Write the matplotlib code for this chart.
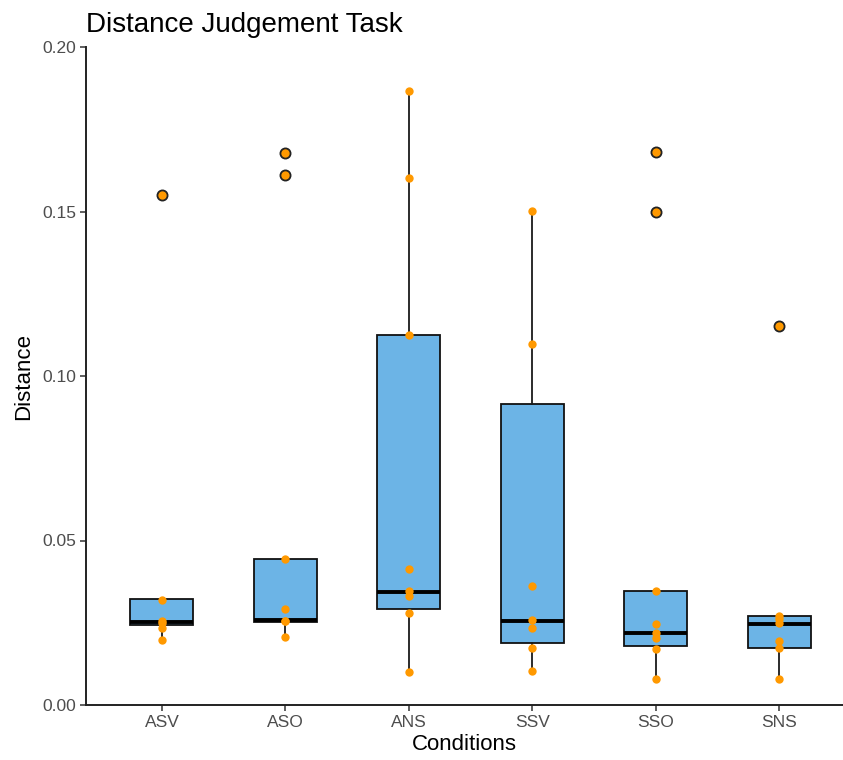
import matplotlib
matplotlib.use("Agg")
import matplotlib.pyplot as plt

conditions = ["ASV", "ASO", "ANS", "SSV", "SSO", "SNS"]

asv = [0.155, 0.0320, 0.0256, 0.0248, 0.0234, 0.0197]
aso = [0.1679, 0.1611, 0.0443, 0.0292, 0.0256, 0.0254, 0.0206]
ans = [0.1865, 0.1601, 0.1125, 0.0412, 0.0347, 0.0332, 0.0281, 0.0100]
ssv = [0.1503, 0.1098, 0.0363, 0.0258, 0.0235, 0.0172, 0.0104]
sso = [0.1681, 0.1497, 0.0347, 0.0246, 0.0218, 0.0203, 0.0169, 0.0079]
sns = [0.1152, 0.0271, 0.0262, 0.0250, 0.0195, 0.0172, 0.0079]
values = [asv, aso, ans, ssv, sso, sns]

# box summaries
q1 = [0.0244, 0.0253, 0.0291, 0.0188, 0.0179, 0.0172]
med = [0.0253, 0.0258, 0.0344, 0.0256, 0.0220, 0.0246]
q3 = [0.0321, 0.0443, 0.1125, 0.0914, 0.0347, 0.0271]
whislo = [0.0197, 0.0206, 0.0100, 0.0104, 0.0079, 0.0079]
whishi = [0.0321, 0.0443, 0.1865, 0.1503, 0.0347, 0.0271]

BOX_FILL = "#6cb4e6"
ORANGE = "#ff9900"

plt.rcParams["font.family"] = ["Liberation Sans", "DejaVu Sans"]

fig = plt.figure(figsize=(8.43, 7.6), dpi=100)
ax = fig.add_axes([86 / 843, 1 - 705 / 760, 1 - 86 / 843, (705 - 47) / 760])

stats = []
for i, name in enumerate(conditions):
    fl = [v for v in values[i] if v > whishi[i] + 1e-4 or v < whislo[i] - 1e-4]
    stats.append(dict(label=name, q1=q1[i], med=med[i], q3=q3[i],
                      whislo=whislo[i], whishi=whishi[i], fliers=fl))

pos = list(range(1, len(conditions) + 1))
ax.bxp(stats, positions=pos, widths=0.51, patch_artist=True, showcaps=False,
       boxprops=dict(facecolor=BOX_FILL, edgecolor="#111111", linewidth=1.3),
       medianprops=dict(color="black", linewidth=2.8),
       whiskerprops=dict(color="#1a1a1a", linewidth=1.3),
       flierprops=dict(marker="o", markerfacecolor="#222222", markeredgecolor="#222222",
                       markersize=7.6))

for i, vals in enumerate(values):
    ax.plot([pos[i]] * len(vals), vals, "o", color=ORANGE, markersize=6.0,
            markeredgewidth=0, zorder=5)

ax.set_xlim(0.385, 6.515)
ax.set_ylim(0, 0.2)
ax.set_yticks([0, 0.05, 0.10, 0.15, 0.20])
ax.set_yticklabels(["0.00", "0.05", "0.10", "0.15", "0.20"])
ax.set_xticks(pos)
ax.set_xticklabels(conditions)

for side in ["top", "right"]:
    ax.spines[side].set_visible(False)
for side in ["left", "bottom"]:
    ax.spines[side].set_linewidth(1.4)
    ax.spines[side].set_color("#222222")
    ax.spines[side].set_capstyle("projecting")

ax.tick_params(axis="both", length=4, width=1.1, color="#333333",
               labelcolor="#4d4d4d", labelsize=12.5, pad=3)

ax.set_xlabel("Conditions", fontsize=16, labelpad=3)
ax.set_ylabel("Distance", fontsize=16, labelpad=6)
ax.set_title("Distance Judgement Task", loc="left", fontsize=20, pad=11)

fig.savefig("out.png", dpi=100)
